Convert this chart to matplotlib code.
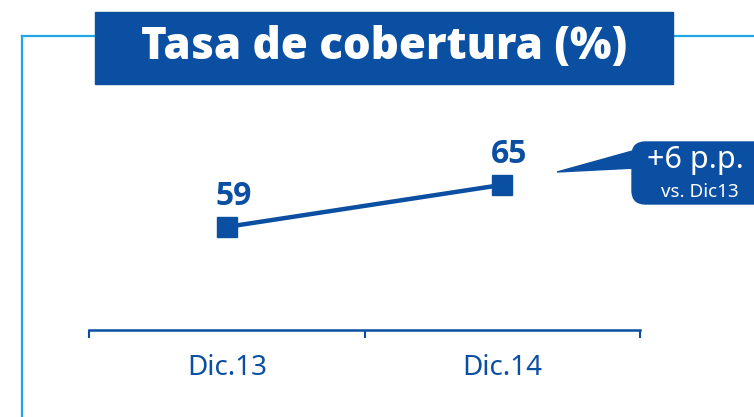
import matplotlib
matplotlib.use('Agg')
import matplotlib.pyplot as plt
from matplotlib import font_manager
from matplotlib.patches import Rectangle, FancyBboxPatch, Polygon
from matplotlib.lines import Line2D

# datos
categorias = ['Dic.13', 'Dic.14']
valores = [59, 65]
titulo = 'Tasa de cobertura (%)'
nota_1 = '+6 p.p.'
nota_2 = 'vs. Dic13'

azul = '#0b4fa3'
celeste = '#1ea7e4'

W, H = 754, 417
fig = plt.figure(figsize=(W / 100, H / 100), dpi=100)


def px(x, y):
    # pixeles (desde arriba-izquierda) -> fraccion de figura
    return x / W, 1 - y / H


nombres = {f.name for f in font_manager.fontManager.ttflist}
fuente_titulo = 'Open Sans' if 'Open Sans' in nombres else 'DejaVu Sans'
fuente = 'Noto Sans' if 'Noto Sans' in nombres else 'DejaVu Sans'

# marco celeste
fig.add_artist(Line2D([22 / W, 22 / W], [0, 1 - 36 / H], color=celeste, lw=1.6,
                      transform=fig.transFigure))
fig.add_artist(Line2D([22 / W, 95 / W], [1 - 36 / H, 1 - 36 / H], color=celeste, lw=1.6,
                      transform=fig.transFigure))
fig.add_artist(Line2D([673 / W, 1], [1 - 36 / H, 1 - 36 / H], color=celeste, lw=1.6,
                      transform=fig.transFigure))

# caja del titulo
x0, y0 = px(95, 84)
fig.add_artist(Rectangle((x0, y0), (673 - 95) / W, (84 - 12) / H, color=azul,
                         transform=fig.transFigure, zorder=2))
tx, ty = px(384, 48)
fig.text(tx, ty, titulo, color='white', fontsize=31.5, fontweight='heavy',
         family=fuente_titulo, ha='center', va='center', zorder=3)

# eje con los datos
ax = fig.add_axes([89 / W, 1 - 330 / H, (640 - 89) / W, (330 - 100) / H])
xs = [i + 0.5 for i in range(len(categorias))]
ax.plot(xs, valores, color=azul, lw=3.2, marker='s', markersize=14.5, clip_on=False)
for x, v in zip(xs, valores):
    ax.annotate(str(v), (x, v), xytext=(5, 16), textcoords='offset points',
                ha='center', va='baseline', color=azul, fontsize=23,
                fontweight='bold', family=fuente_titulo)
ax.set_xlim(0, len(categorias))
ax.set_ylim(44.3, 77.1)
ax.set_xticks(range(len(categorias) + 1))
ax.set_xticklabels([])
ax.set_xticks(xs, minor=True)
ax.set_xticklabels(categorias, minor=True, fontsize=20, color=azul, family=fuente)
ax.tick_params(axis='x', which='major', direction='out', length=6, width=1.5, color=azul)
ax.tick_params(axis='x', which='minor', length=0, pad=17)
ax.set_yticks([])
for s in ['top', 'right', 'left']:
    ax.spines[s].set_visible(False)
ax.spines['bottom'].set_color(azul)
ax.spines['bottom'].set_linewidth(1.8)
ax.patch.set_alpha(0)

# globo con la variacion
bx, by = px(632, 204)
fig.add_artist(FancyBboxPatch((bx, by), (770 - 632) / W, (204 - 142) / H,
                              boxstyle='round,pad=0,rounding_size=0.018',
                              color=azul, transform=fig.transFigure,
                              mutation_aspect=W / H, clip_on=False))
fig.add_artist(Polygon([px(557, 172), px(636, 150), px(636, 168)], closed=True,
                       color=azul, transform=fig.transFigure))
nx, ny = px(695, 160)
fig.text(nx, ny, nota_1, color='white', fontsize=22, family=fuente,
         ha='center', va='center')
nx, ny = px(700, 192)
fig.text(nx, ny, nota_2, color='white', fontsize=13.5, family=fuente,
         ha='center', va='center')

fig.savefig('out.png', dpi=100)
